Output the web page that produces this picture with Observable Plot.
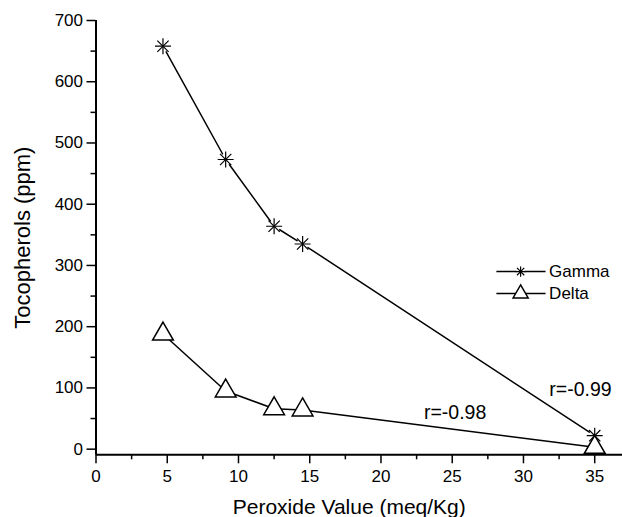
<!DOCTYPE html>
<html><head><meta charset="utf-8">
<script src="https://cdn.jsdelivr.net/npm/d3@7"></script>
<script src="https://cdn.jsdelivr.net/npm/@observablehq/plot@0.6"></script>
<style>body{margin:0;background:#fff;} svg{display:block}</style>
</head><body><div id="chart"></div>
<script>
// Data
const peroxide = [4.7, 9.1, 12.5, 14.5, 35];
const gamma = [658, 473, 364, 335, 22];
const delta = [188, 95, 66, 64, 3];

const xTicks = [0, 5, 10, 15, 20, 25, 30, 35];
const xMinorTicks = [2.5, 7.5, 12.5, 17.5, 22.5, 27.5, 32.5];
const yTicks = [0, 100, 200, 300, 400, 500, 600, 700];
const yMinorTicks = [50, 150, 250, 350, 450, 550, 650];

const xDomain = [0, 36.95];
const yDomain = [-9.2, 700];

const annotationText = ["r=-0.99", "r=-0.98"];
const annotationX = [34.0, 25.2];
const annotationY = [97, 60];

const legendNames = ["Gamma", "Delta"];
const legendY = [290, 254];
const legendLineX = [28.1, 31.55];
const legendMarkX = 29.8;
const legendTextX = 31.8;

const xLabel = "Peroxide Value (meq/Kg)";
const yLabel = "Tocopherols (ppm)";

const rows = peroxide.map((x, i) => ({x, gamma: gamma[i], delta: delta[i]}));
const ann = annotationText.map((t, i) => ({t, x: annotationX[i], y: annotationY[i]}));
const leg = legendNames.map((n, i) => ({n, y: legendY[i]}));

const starMarks = (data, opts, r, bg) => [
  Plot.dot(data, {...opts, r: bg, fill: "white", stroke: "none"}),
  Plot.dot(data, {...opts, r, symbol: "plus", stroke: "black", strokeWidth: 1.2}),
  Plot.dot(data, {...opts, r, symbol: "times", stroke: "black", strokeWidth: 1.2})
];

const chart = Plot.plot({
  width: 622,
  height: 517,
  marginLeft: 95.5,
  marginRight: 0,
  marginTop: 20,
  marginBottom: 62.7,
  x: {domain: xDomain},
  y: {domain: yDomain},
  style: {fontFamily: "'Liberation Sans', Arial, sans-serif", color: "black", background: "white", overflow: "visible"},
  marks: [
    Plot.axisY(yMinorTicks, {tickSize: 5, tickFormat: () => "", label: null, strokeWidth: 1.5}),
    Plot.axisY(yTicks, {tickSize: 9, tickPadding: 4, fontSize: 17, label: null, strokeWidth: 1.5}),
    Plot.axisX(xMinorTicks, {tickSize: 5, tickFormat: () => "", label: null, strokeWidth: 1.5}),
    Plot.axisX(xTicks, {tickSize: 9, tickPadding: 6, fontSize: 17, label: null, strokeWidth: 1.5}),
    Plot.ruleX([xDomain[0]], {y1: yDomain[0], y2: yDomain[1], strokeWidth: 2}),
    Plot.ruleY([yDomain[0]], {strokeWidth: 2}),
    Plot.text([yLabel], {frameAnchor: "left", textAnchor: "middle", rotate: -90, dx: -73, fontSize: 22}),
    Plot.text([xLabel], {frameAnchor: "bottom", textAnchor: "middle", dx: -10, dy: 52, fontSize: 21, lineAnchor: "middle"}),
    Plot.line(rows, {x: "x", y: "gamma", stroke: "black", strokeWidth: 1.5}),
    Plot.line(rows, {x: "x", y: "delta", stroke: "black", strokeWidth: 1.5}),
    ...starMarks(rows, {x: "x", y: "gamma"}, 5.2, 6),
    Plot.dot(rows, {x: "x", y: "delta", symbol: "triangle", r: 7.7, fill: "white", stroke: "black", strokeWidth: 1.5}),
    Plot.text(ann, {x: "x", y: "y", text: "t", fontSize: 19.5}),
    Plot.link(leg, {x1: legendLineX[0], x2: legendLineX[1], y1: "y", y2: "y", stroke: "black", strokeWidth: 1.5}),
    ...starMarks(leg.slice(0, 1), {x: () => legendMarkX, y: "y"}, 3.4, 4),
    Plot.dot(leg.slice(1), {x: () => legendMarkX, y: "y", symbol: "triangle", r: 5.6, fill: "white", stroke: "black", strokeWidth: 1.5}),
    Plot.text(leg, {x: () => legendTextX, y: "y", text: "n", textAnchor: "start", fontSize: 17})
  ]
});
document.getElementById("chart").append(chart);
</script>
</body></html>
